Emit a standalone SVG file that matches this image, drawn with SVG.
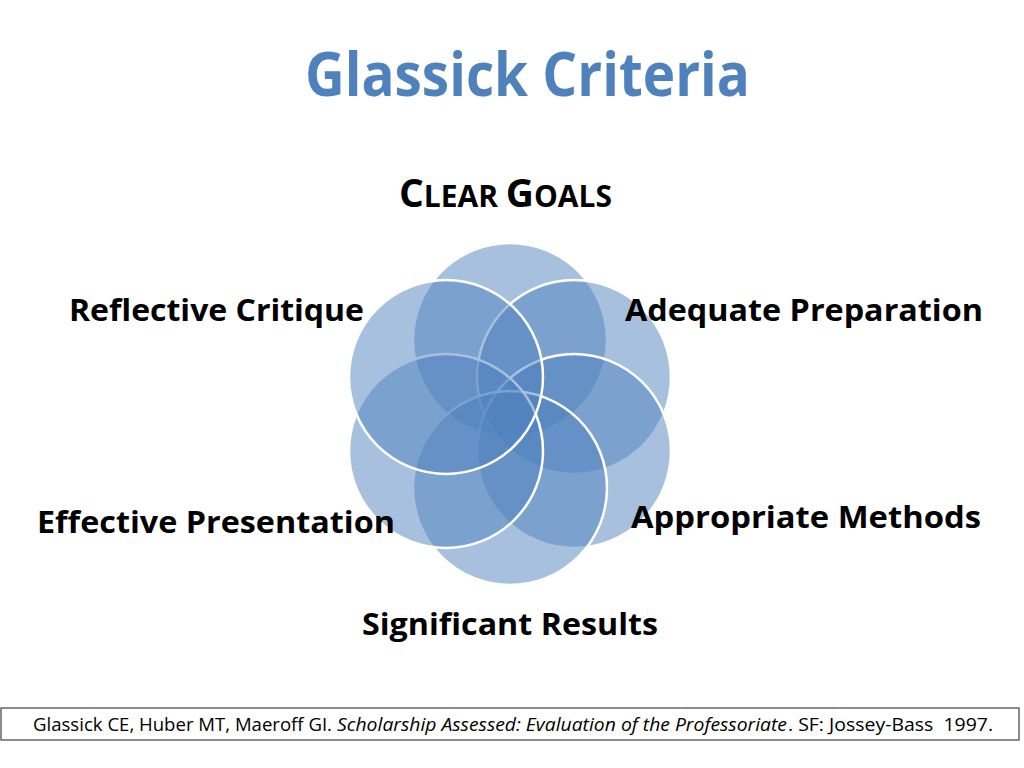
<svg xmlns="http://www.w3.org/2000/svg" width="1024" height="768" viewBox="0 0 1024 768">
<style>
.title{font-family:"Open Sans","Liberation Sans",sans-serif;font-weight:bold;fill:#4F81BD;font-size:61px}
.lbl{font-family:"Open Sans","Liberation Sans",sans-serif;font-weight:bold;fill:#000;font-size:30px}
.circ{fill:#4F81BD;fill-opacity:0.5;stroke:#FFFFFF;stroke-width:2.5}
.ref{font-family:"Open Sans","Liberation Sans",sans-serif;fill:#000;font-size:17.5px}
</style>
<rect width="1024" height="768" fill="#FFFFFF"/>
<text class="title" x="305" y="96" textLength="445" lengthAdjust="spacingAndGlyphs">Glassick Criteria</text>
<g id="connectors"></g>
<g id="circles">
<circle id="c-top" class="circ" cx="510" cy="340" r="97"/>
<circle id="c-ur" class="circ" cx="574" cy="377" r="97"/>
<circle id="c-lr" class="circ" cx="574" cy="451" r="97"/>
<circle id="c-bot" class="circ" cx="510" cy="488" r="97"/>
<circle id="c-ll" class="circ" cx="446" cy="451" r="97"/>
<circle id="c-ul" class="circ" cx="446" cy="377" r="97"/>
</g>
<g id="n-clear-goals">
<text class="lbl" x="399" y="207" textLength="213" lengthAdjust="spacingAndGlyphs"><tspan font-size="39">C</tspan><tspan font-size="30">LEAR </tspan><tspan font-size="39">G</tspan><tspan font-size="30">OALS</tspan></text>
</g>
<g id="n-adequate"><text class="lbl" x="625" y="321" textLength="358" lengthAdjust="spacingAndGlyphs">Adequate Preparation</text></g>
<g id="n-appropriate"><text class="lbl" x="631" y="528" textLength="350" lengthAdjust="spacingAndGlyphs">Appropriate Methods</text></g>
<g id="n-significant"><text class="lbl" x="362" y="635" textLength="296" lengthAdjust="spacingAndGlyphs">Significant Results</text></g>
<g id="n-effective"><text class="lbl" x="37" y="533" textLength="358" lengthAdjust="spacingAndGlyphs">Effective Presentation</text></g>
<g id="n-reflective"><text class="lbl" x="69" y="321" textLength="295" lengthAdjust="spacingAndGlyphs">Reflective Critique</text></g>
<g id="reference">
<rect x="1" y="708" width="1018" height="32" fill="#FFFFFF" stroke="#404040" stroke-width="1.2"/>
<text class="ref" x="33" y="731" textLength="299" lengthAdjust="spacingAndGlyphs">Glassick CE, Huber MT, Maeroff GI.</text>
<text class="ref" x="337" y="731" font-style="italic" textLength="450" lengthAdjust="spacingAndGlyphs">Scholarship Assessed: Evaluation of the Professoriate</text>
<text class="ref" x="788" y="731" xml:space="preserve" textLength="205" lengthAdjust="spacingAndGlyphs">. SF: Jossey-Bass  1997.</text>
</g>
</svg>
